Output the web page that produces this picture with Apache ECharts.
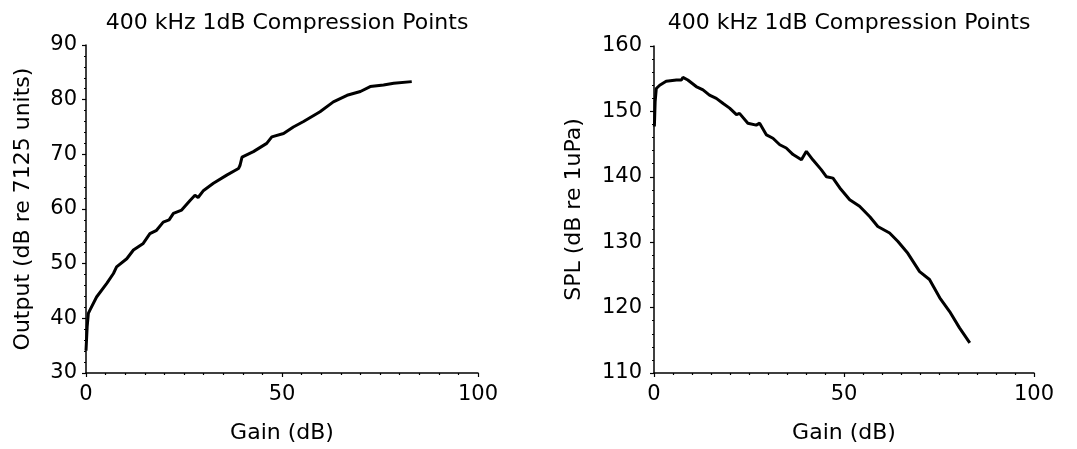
<!DOCTYPE html>
<html><head><meta charset="utf-8">
<script src="https://cdn.jsdelivr.net/npm/echarts@6/dist/echarts.min.js"></script>
<style>html,body{margin:0;padding:0;background:#fff}#c{width:1077px;height:449px}</style>
</head><body><div id="c"></div>
<script>
const titleText = "400 kHz 1dB Compression Points";
const xTicks = [0, 50, 100];
const leftYName = "Output (dB re 7125 units)";
const rightYName = "SPL (dB re 1uPa)";
const xName = "Gain (dB)";

const outputGain = [0, 0.3, 0.6, 1, 2.7, 5.3, 7, 7.8, 10.4, 12.1, 14.6, 16.3, 18, 19.7, 21.2, 22.3, 24.4, 26.6, 27.8, 28.6, 30, 32.5, 35.9, 38.9, 39.3, 39.8, 42.7, 46.1, 47.4, 50.4, 52.9, 55.5, 59.7, 63.1, 66.6, 70, 72.5, 75.9, 78.5, 83.1];
const outputDb = [34.1, 38.5, 40.9, 41.5, 43.9, 46.4, 48.2, 49.4, 50.9, 52.5, 53.7, 55.5, 56.1, 57.6, 58.0, 59.2, 59.8, 61.6, 62.5, 62.1, 63.4, 64.7, 66.2, 67.4, 68.0, 69.5, 70.5, 72.0, 73.2, 73.8, 75.0, 76.0, 77.8, 79.6, 80.8, 81.5, 82.4, 82.7, 83.0, 83.3];

const splGain = [0.1, 0.3, 0.6, 1.5, 3.2, 5.9, 7.2, 7.6, 8.9, 11.1, 12.9, 14.6, 16.4, 18.2, 19.9, 21.7, 22.5, 24.7, 26.9, 27.8, 29.6, 31.3, 33.1, 34.8, 36.6, 38.8, 40.1, 41.8, 44, 45.4, 47.1, 48.9, 51.5, 54.1, 56.8, 58.9, 62, 64.2, 66.8, 69.9, 72.5, 75.2, 77.8, 80.4, 83.1];
const splDb = [147.7, 151.5, 153.5, 154.0, 154.6, 154.8, 154.8, 155.2, 154.8, 153.8, 153.3, 152.5, 152.0, 151.2, 150.5, 149.5, 149.7, 148.2, 147.9, 148.2, 146.4, 145.9, 144.9, 144.4, 143.4, 142.6, 143.9, 142.6, 141.1, 140.0, 139.8, 138.3, 136.5, 135.5, 133.9, 132.4, 131.4, 130.1, 128.3, 125.5, 124.3, 121.5, 119.4, 116.9, 114.6];

const FONT = "DejaVu Sans";
function zip(a, b) { return a.map((v, i) => [v, b[i]]); }
function xAxis(idx) {
  return {
    gridIndex: idx, type: 'value', min: xTicks[0], max: xTicks[xTicks.length - 1], interval: 50,
    name: xName, nameLocation: 'middle', nameGap: 49,
    nameTextStyle: { color: '#000', fontSize: 22, fontFamily: FONT },
    axisLine: { lineStyle: { color: '#000', width: 1.5 } },
    axisTick: { show: true, length: 4, lineStyle: { color: '#000', width: 1.2 } },
    minorTick: { show: true, splitNumber: 10, length: 2, lineStyle: { color: '#000', width: 1.2 } },
    splitLine: { show: false },
    axisLabel: { color: '#000', fontSize: 21, fontFamily: FONT, margin: 11 }
  };
}
function yAxis(idx, min, max, name, gap, margin) {
  return {
    gridIndex: idx, type: 'value', min: min, max: max, interval: 10,
    name: name, nameLocation: 'middle', nameGap: gap, nameRotate: 90,
    nameTextStyle: { color: '#000', fontSize: 22, fontFamily: FONT },
    axisLine: { show: true, lineStyle: { color: '#000', width: 1.5 } },
    axisTick: { show: true, length: 4, lineStyle: { color: '#000', width: 1.2 } },
    minorTick: { show: true, splitNumber: 5, length: 2, lineStyle: { color: '#000', width: 1 } },
    splitLine: { show: false },
    axisLabel: { color: '#000', fontSize: 21, fontFamily: FONT, margin: margin }
  };
}
const chart = echarts.init(document.getElementById('c'), null, { renderer: 'canvas' });
chart.setOption({
  backgroundColor: '#fff',
  animation: false,
  title: [
    { text: titleText, left: 282, top: 7, textAlign: 'center', textStyle: { color: '#000', fontSize: 22, fontWeight: 'normal', fontFamily: FONT } },
    { text: titleText, left: 844, top: 7, textAlign: 'center', textStyle: { color: '#000', fontSize: 22, fontWeight: 'normal', fontFamily: FONT } }
  ],
  grid: [
    { left: 86, top: 45, width: 392, height: 328 },
    { left: 654, top: 46, width: 380, height: 327 }
  ],
  xAxis: [xAxis(0), xAxis(1)],
  yAxis: [yAxis(0, 30, 90, leftYName, 52, 9), yAxis(1, 110, 160, rightYName, 69, 12)],
  series: [
    { type: 'line', xAxisIndex: 0, yAxisIndex: 0, data: zip(outputGain, outputDb), showSymbol: false, lineStyle: { color: '#000', width: 3 } },
    { type: 'line', xAxisIndex: 1, yAxisIndex: 1, data: zip(splGain, splDb), showSymbol: false, lineStyle: { color: '#000', width: 3 } }
  ]
});
</script></body></html>
